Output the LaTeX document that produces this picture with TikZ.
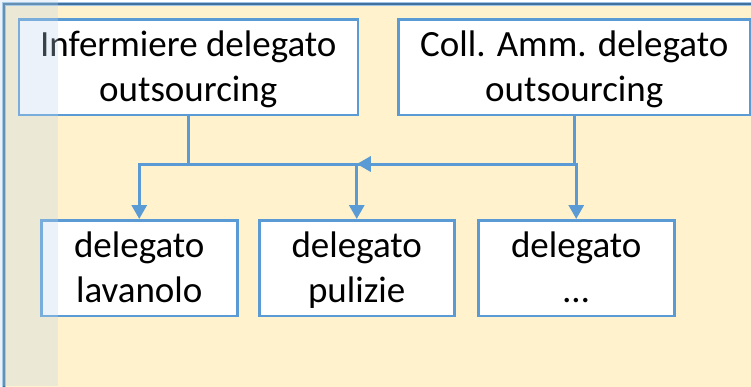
\documentclass[tikz,border=0pt]{standalone}
\usepackage{fontspec}
\setmainfont{Carlito}
\usetikzlibrary{arrows.meta}
\definecolor{paper}{RGB}{255,242,204}
\definecolor{boxline}{RGB}{91,155,213}
\definecolor{frameline}{RGB}{65,113,156}
\definecolor{framelight}{RGB}{157,195,230}
\definecolor{tint}{RGB}{189,215,238}
% two centred lines with fixed strut heights, so every box sets its
% baselines at the same place whatever letters it holds
\newcommand{\twolines}[2]{\rule{0pt}{37pt}#1\\#2\rule[-13.5pt]{0pt}{13.5pt}}
\tikzset{
  x=1pt, y=-1pt,
  orgbox/.style={draw=boxline, line width=2.5pt, fill=white, inner sep=0pt,
    align=center, font=\fontsize{37}{45}\selectfont, anchor=north west},
  conn/.style={draw=boxline, line width=3pt},
  tip/.style={-{Triangle[width=15pt,length=14pt]}}
}
\begin{document}
\begin{tikzpicture}
\useasboundingbox (0,0) rectangle (751,386);
\fill[white] (0,0) rectangle (751,386);
% outer frame, running past the right and bottom edges
\fill[paper] (4,4) rectangle (770,400);
\draw[framelight, line width=4pt] (4,400) -- (4,4) -- (770,4);
\draw[frameline, line width=1.6pt] (4,400) -- (4,4) -- (770,4);

% top row
\node[orgbox, minimum width=339pt, minimum height=92pt] (L) at (17.5,18) {\twolines{Infermiere delegato}{outsourcing}};
\node[orgbox, minimum width=352pt, minimum height=92pt] (R) at (397,18) {\twolines{Coll. Amm. delegato}{outsourcing}};

% bottom row
\node[orgbox, minimum width=196pt, minimum height=93pt] (A) at (40,219) {\twolines{delegato}{lavanolo}};
\node[orgbox, minimum width=195pt, minimum height=93pt] (B) at (258,219) {\twolines{delegato}{pulizie}};
\node[orgbox, minimum width=196pt, minimum height=93pt] (C) at (477,219) {\twolines{delegato}{…}};

% shared horizontal level of the connectors
\coordinate (bus) at (0,164);

\draw[conn, tip] (L.south) |- (A.north |- bus) -- (A.north);
\draw[conn, tip] (L.south) |- (B.north |- bus) -- (B.north);
\draw[conn, tip] (L.south) |- (C.north |- bus) -- (C.north);
\draw[conn, tip] (R.south) |- (B.north |- bus);

% translucent blue band along the left edge
\fill[tint, opacity=0.3] (0,0) rectangle (58,386);
\end{tikzpicture}
\end{document}
